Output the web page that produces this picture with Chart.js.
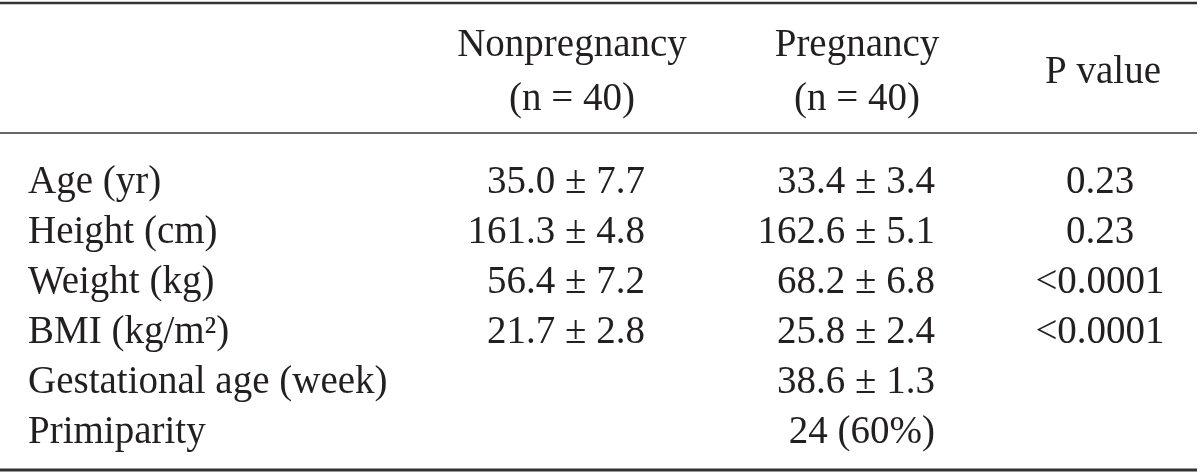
<!DOCTYPE html>
<html>
<head>
<meta charset="utf-8">
<script src="https://cdn.jsdelivr.net/npm/chart.js@4"></script>
<style>
  html, body { margin: 0; padding: 0; background: #fff; }
  #wrap { width: 1200px; height: 476px; position: relative; }
</style>
</head>
<body>
<div id="wrap"><canvas id="tbl"></canvas></div>
<script>
// table content
const rowLabels = ['Age (yr)', 'Height (cm)', 'Weight (kg)', 'BMI (kg/m²)', 'Gestational age (week)', 'Primiparity'];
const nonpregnancy = ['35.0 ± 7.7', '161.3 ± 4.8', '56.4 ± 7.2', '21.7 ± 2.8', '', ''];
const pregnancy = ['33.4 ± 3.4', '162.6 ± 5.1', '68.2 ± 6.8', '25.8 ± 2.4', '38.6 ± 1.3', '24 (60%)'];
const pValues = ['0.23', '0.23', '<0.0001', '<0.0001', '', ''];
const headNonpreg = ['Nonpregnancy', '(n = 40)'];
const headPreg = ['Pregnancy', '(n = 40)'];
const headP = ['P value'];

// layout (scale units; x and y both map 1:1 onto the 1200x476 area)
const FONT = '39px "Liberation Serif", "DejaVu Serif", serif';
const INK = '#231f20';
const colLabelX = 28;       // left aligned
const colNonX = 645;        // right aligned
const colPregX = 935;       // right aligned
const colPX = 1100;         // centered
const headNonX = 572, headPregX = 857, headPX = 1103;
const headY = [56, 110];    // baselines of the two header lines
const firstRowY = 193, rowGap = 50;
const rules = [{y: 3, w: 2.5}, {y: 133, w: 1.5}, {y: 470, w: 3}];

const tablePlugin = {
  id: 'tablePlugin',
  afterDraw(chart) {
    const ctx = chart.ctx;
    const x = chart.scales.x, y = chart.scales.y;
    ctx.save();
    // rules
    ctx.strokeStyle = '#333';
    for (const r of rules) {
      ctx.lineWidth = r.w;
      ctx.beginPath();
      ctx.moveTo(x.getPixelForValue(0), y.getPixelForValue(r.y));
      ctx.lineTo(x.getPixelForValue(1197), y.getPixelForValue(r.y));
      ctx.stroke();
    }
    ctx.fillStyle = INK;
    ctx.font = FONT;
    ctx.textBaseline = 'alphabetic';
    // header
    ctx.textAlign = 'center';
    headNonpreg.forEach((t, i) => ctx.fillText(t, x.getPixelForValue(headNonX), y.getPixelForValue(headY[i])));
    headPreg.forEach((t, i) => ctx.fillText(t, x.getPixelForValue(headPregX), y.getPixelForValue(headY[i])));
    ctx.fillText(headP[0], x.getPixelForValue(headPX), y.getPixelForValue((headY[0] + headY[1]) / 2));
    // body rows
    rowLabels.forEach((lab, i) => {
      const py = y.getPixelForValue(firstRowY + i * rowGap);
      ctx.textAlign = 'left';
      ctx.fillText(lab, x.getPixelForValue(colLabelX), py);
      ctx.textAlign = 'right';
      ctx.fillText(nonpregnancy[i], x.getPixelForValue(colNonX), py);
      ctx.fillText(pregnancy[i], x.getPixelForValue(colPregX), py);
      ctx.textAlign = 'center';
      ctx.fillText(pValues[i], x.getPixelForValue(colPX), py);
    });
    ctx.restore();
  }
};

new Chart(document.getElementById('tbl'), {
  type: 'scatter',
  data: { datasets: [{ data: [] }] },
  options: {
    responsive: true,
    maintainAspectRatio: false,
    animation: false,
    layout: { padding: 0 },
    plugins: { legend: { display: false }, tooltip: { enabled: false } },
    scales: {
      x: { type: 'linear', min: 0, max: 1200, display: false },
      y: { type: 'linear', min: 0, max: 476, reverse: true, display: false }
    }
  },
  plugins: [tablePlugin]
});
</script>
</body>
</html>
